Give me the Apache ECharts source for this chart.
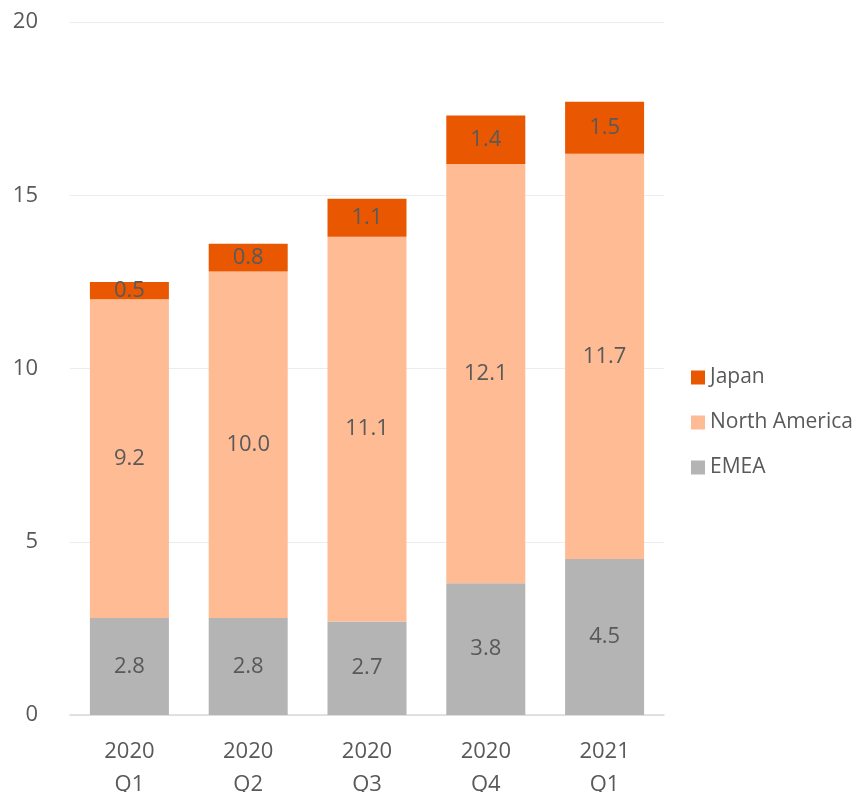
<!DOCTYPE html>
<html>
<head>
<meta charset="utf-8">
<script src="https://cdn.jsdelivr.net/npm/echarts@6/dist/echarts.min.js"></script>
<style>
html, body { margin: 0; padding: 0; background: #fff; }
#main { width: 867px; height: 792px; }
</style>
</head>
<body>
<div id="main"></div>
<script>
var categories = ['2020\nQ1', '2020\nQ2', '2020\nQ3', '2020\nQ4', '2021\nQ1'];
var emea = [2.8, 2.8, 2.7, 3.8, 4.5];
var northAmerica = [9.2, 10.0, 11.1, 12.1, 11.7];
var japan = [0.5, 0.8, 1.1, 1.4, 1.5];
var yTicks = [0, 5, 10, 15, 20];

var font = '"Open Sans", sans-serif';

function makeSeries(name, data, color) {
	return {
		name: name,
		type: 'bar',
		stack: 'total',
		data: data,
		barWidth: '66.5%',
		itemStyle: { color: color },
		label: {
			show: true,
			position: 'inside',
			color: '#595959',
			fontFamily: font,
			fontSize: 22,
			formatter: function (p) { return p.value.toFixed(1); }
		}
	};
}

var chart = echarts.init(document.getElementById('main'));
chart.setOption({
	animation: false,
	legend: {
		orient: 'vertical',
		left: 686,
		top: 362,
		itemWidth: 14,
		itemHeight: 14,
		itemGap: 24,
		icon: 'rect',
		data: ['Japan', 'North America', 'EMEA'],
		textStyle: { color: '#595959', fontFamily: font, fontSize: 21 }
	},
	grid: { left: 70, right: 203, top: 22, bottom: 77, outerBoundsMode: 'none', containLabel: false },
	xAxis: {
		type: 'category',
		data: categories,
		axisLine: { lineStyle: { color: '#d9d9d9', width: 1.5 } },
		axisTick: { show: false },
		axisLabel: {
			color: '#595959', fontFamily: font, fontSize: 22,
			lineHeight: 33, margin: 20
		}
	},
	yAxis: {
		type: 'value',
		min: yTicks[0],
		max: yTicks[yTicks.length - 1],
		interval: 5,
		axisLine: { show: false },
		axisTick: { show: false },
		splitLine: { lineStyle: { color: '#ececec', width: 1 } },
		axisLabel: { color: '#595959', fontFamily: font, fontSize: 22, margin: 32 }
	},
	series: [
		makeSeries('EMEA', emea, '#b4b4b4'),
		makeSeries('North America', northAmerica, '#ffbb94'),
		makeSeries('Japan', japan, '#e95800')
	]
});
</script>
</body>
</html>
